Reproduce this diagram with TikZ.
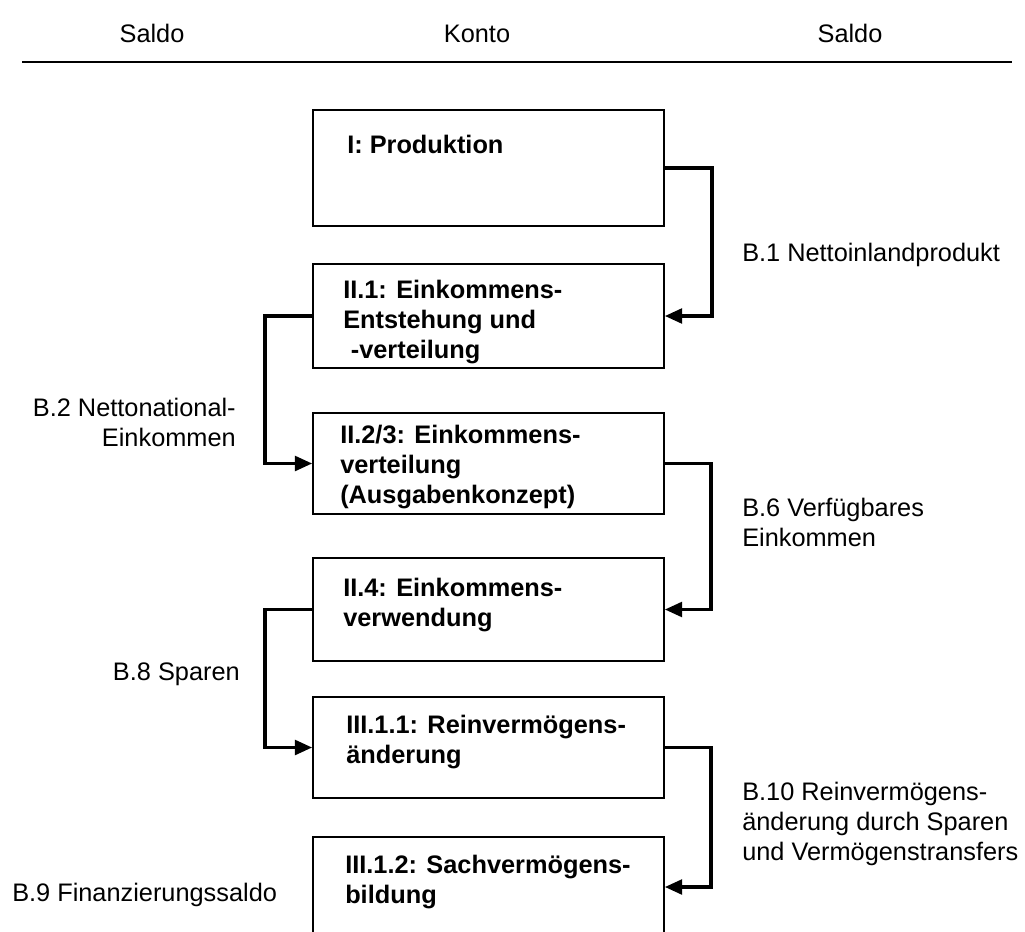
\documentclass[tikz,border=0pt]{standalone}
\usepackage{fontspec}
\setmainfont{Liberation Sans}
\usetikzlibrary{arrows.meta}

\tikzset{
  kbox/.style={draw, line width=1.2pt, minimum width=263.25pt, inner sep=0pt},
  ktext/.style={anchor=north west, inner sep=0pt, align=left, font=\fontsize{19}{22.5}\selectfont\bfseries},
  saldo/.style={inner sep=0pt, font=\fontsize{19}{22.5}\selectfont},
  conn/.style={line width=2.6pt, -{Triangle[length=13pt, width=11pt]}}
}

\begin{document}
\begin{tikzpicture}[x=0.75pt, y=-0.75pt]
    \clip (0,0) rectangle (1025,932);
    % Kopfzeile
    \node[saldo, anchor=base] (hl) at (152,42) {Saldo};
    \node[saldo, anchor=base] (hk) at (477,42) {Konto};
    \node[saldo, anchor=base] (hr) at (850,42) {Saldo};
    \draw[line width=1.5pt] (22,62) -- (1012,62);
    % Konten
    \node[kbox, minimum height=87pt] (prod) at (488.5,168) {};
    \node[kbox, minimum height=78pt] (ein1) at (488.5,316) {};
    \node[kbox, minimum height=75.75pt] (ein23) at (488.5,463.5) {};
    \node[kbox, minimum height=77.25pt] (ein4) at (488.5,609.5) {};
    \node[kbox, minimum height=75.75pt] (rv) at (488.5,747.5) {};
    \node[kbox, minimum height=75pt] (sv) at (488.5,887) {};
    \node[ktext] (tprod) at (347,135) {I: Produktion};
    \node[ktext] (tein1) at (343,280) {II.1: Einkommens-\\Entstehung und\\\hspace{0.3em}-verteilung};
    \node[ktext] (tein23) at (340,425) {II.2/3: Einkommens-\\verteilung\\(Ausgabenkonzept)};
    \node[ktext] (tein4) at (343,578) {II.4: Einkommens-\\verwendung};
    \node[ktext] (trv) at (346,715) {III.1.1: Reinvermögens-\\änderung};
    \node[ktext] (tsv) at (345,855) {III.1.2: Sachvermögens-\\bildung};
    % Salden
    \node[saldo, anchor=north west] (b1) at (742,243) {B.1 Nettoinlandprodukt};
    \node[saldo, anchor=north east, align=right] (b2) at (236,398) {B.2 Nettonational-\\Einkommen};
    \node[saldo, anchor=north west, align=left] (b6) at (742,498) {B.6 Verfügbares\\Einkommen};
    \node[saldo, anchor=north east] (b8) at (240,663) {B.8 Sparen};
    \node[saldo, anchor=north west, align=left] (b10) at (742,782) {B.10 Reinvermögens-\\änderung durch Sparen\\und Vermögenstransfers};
    \node[saldo, anchor=north west] (b9) at (12,883) {B.9 Finanzierungssaldo};
    % Verbindungen
    \draw[conn] (prod.east) -- ++(47,0) |- (ein1.east);
    \draw[conn] (ein1.west) -- ++(-47,0) |- (ein23.west);
    \draw[conn] (ein23.east) -- ++(46,0) |- (ein4.east);
    \draw[conn] (ein4.west) -- ++(-47,0) |- (rv.west);
    \draw[conn] (rv.east) -- ++(46,0) |- (sv.east);
\end{tikzpicture}
\end{document}
